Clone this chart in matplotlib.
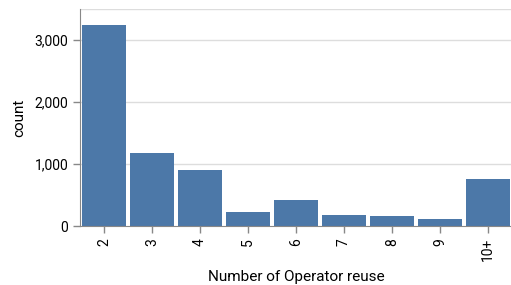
import matplotlib
matplotlib.use("Agg")
import matplotlib.pyplot as plt

categories = ["2", "3", "4", "5", "6", "7", "8", "9", "10+"]
counts = [3242, 1172, 899, 225, 417, 177, 160, 112, 754]

BAR = "#4c78a8"
GRID = "#dddddd"
AXIS = "#888888"

plt.rcParams.update({
    "font.family": ["Roboto", "DejaVu Sans"],
    "font.size": 8,
})

fig = plt.figure(figsize=(5.11, 2.85), dpi=100)
ax = fig.add_axes([80 / 511, 1 - 226 / 285, 432 / 511, 217 / 285])

x = range(len(categories))
ax.bar(x, counts, width=0.92, color=BAR, zorder=2)
ax.set_xlim(-0.5, len(categories) - 0.5)
ax.set_ylim(0, 3500)
ax.set_yticks([0, 1000, 2000, 3000])
ax.set_yticklabels(["0", "1,000", "2,000", "3,000"], fontsize=10)
ax.set_xticks(list(x))
ax.set_xticklabels(categories, rotation=90, fontsize=10)

for y in [1000, 2000, 3000, 3500]:
    ax.axhline(y, color=GRID, lw=1, zorder=0)

for s in ["top", "right"]:
    ax.spines[s].set_visible(False)
for s in ["left", "bottom"]:
    ax.spines[s].set_color(AXIS)
ax.tick_params(colors=AXIS, labelcolor="black", length=5, width=1)

ax.set_xlabel("Number of Operator reuse", fontsize=11, labelpad=6)
ax.set_ylabel("count", fontsize=11, labelpad=6)

fig.savefig("out.png", dpi=100)
